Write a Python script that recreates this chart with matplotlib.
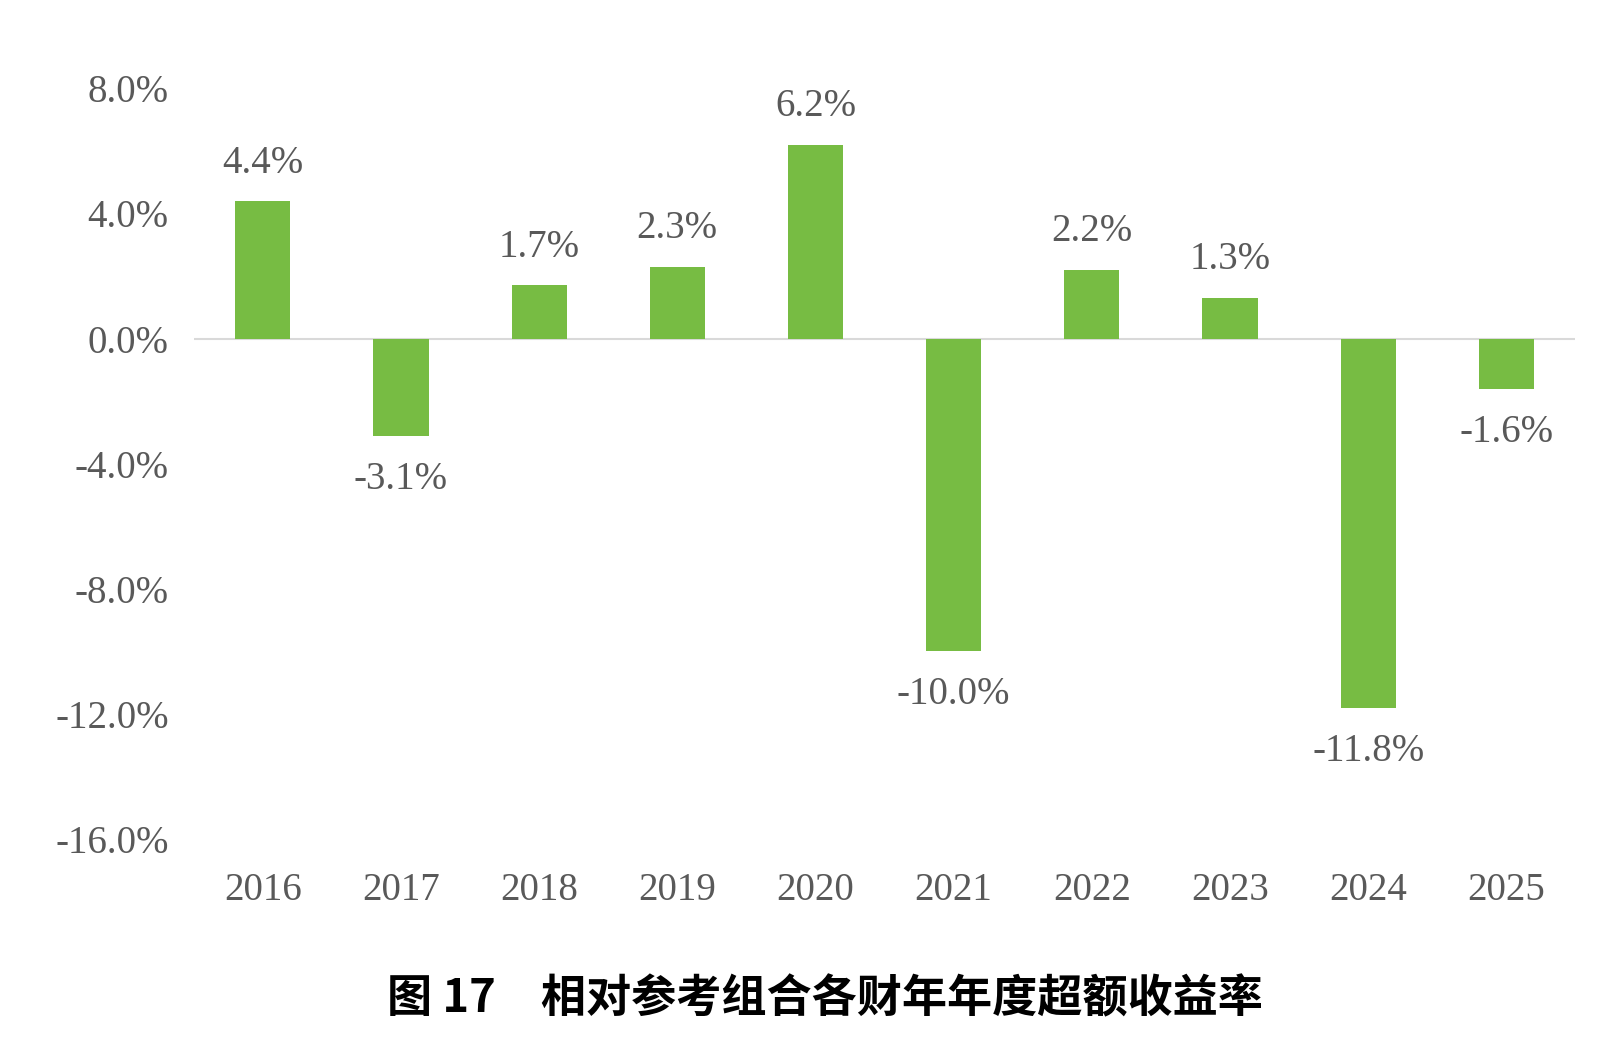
import matplotlib.pyplot as plt

# === Data ===
years = ['2016', '2017', '2018', '2019', '2020', '2021', '2022', '2023', '2024', '2025']
excess = [4.4, -3.1, 1.7, 2.3, 6.2, -10.0, 2.2, 1.3, -11.8, -1.6]
yticks = [8, 4, 0, -4, -8, -12, -16]
title = '图 17\u3000相对参考组合各财年年度超额收益率'

# === Figure ===
fig = plt.figure(figsize=(16.01, 10.52), dpi=100)
ax = fig.add_axes([0.121, 0.2025, 0.863, 0.7135])

x = range(len(years))
ax.bar(x, excess, width=0.4, color='#77bc43', zorder=2)
ax.axhline(0, color='#d9d9d9', lw=1.5, zorder=1)

gray = '#595959'
num_font = 'Liberation Serif'
for i, v in zip(x, excess):
    if v >= 0:
        ax.annotate(f'{v:.1f}%', (i, v), xytext=(0, 14), textcoords='offset points',
                    ha='center', va='bottom', fontsize=28, color=gray, family=num_font)
    else:
        ax.annotate(f'{v:.1f}%', (i, v), xytext=(0, -18), textcoords='offset points',
                    ha='center', va='top', fontsize=28, color=gray, family=num_font)

ax.set_xlim(-0.5, len(years) - 0.5)
ax.set_ylim(-16, 8)
ax.set_yticks(yticks)
ax.set_yticklabels([f'{t:.1f}%' for t in yticks], fontsize=28, color=gray, family=num_font)
ax.set_xticks(list(x))
ax.set_xticklabels(years, fontsize=28, color=gray, family=num_font)
ax.tick_params(length=0, axis='y', pad=18)
ax.tick_params(length=0, axis='x', pad=24)
for s in ax.spines.values():
    s.set_visible(False)

fig.text(0.515, 0.05, title, ha='center', va='center', fontsize=32.5, fontweight='bold',
         family=['Noto Sans CJK SC', 'DejaVu Sans'], color='black')

fig.savefig('out.png', dpi=100)
